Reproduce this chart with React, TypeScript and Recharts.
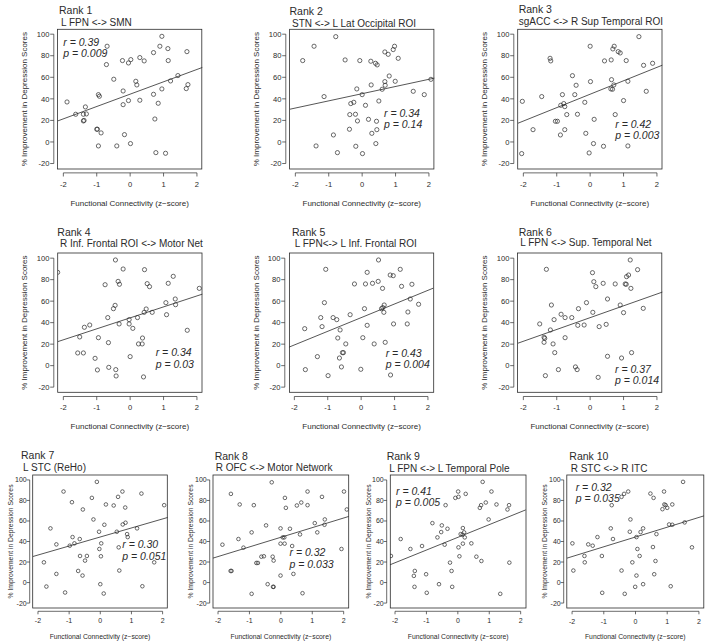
import React from "react";
import {
  ReferenceLine,
  Scatter,
  ScatterChart,
  XAxis,
  YAxis,
} from "recharts";

type Pair = [number, number];

const X_TICKS = [-2, -1, 0, 1, 2];
const Y_TICKS = [-20, 0, 20, 40, 60, 80, 100];
const X_DOMAIN: [number, number] = [-2.16, 2.16];
const Y_DOMAIN: [number, number] = [-24.8, 104.8];

const rankLabels = ["Rank 1", "Rank 2", "Rank 3", "Rank 4", "Rank 5", "Rank 6", "Rank 7", "Rank 8", "Rank 9", "Rank 10"];
const connections = [
  "L FPN <-> SMN",
  "STN <-> L Lat Occipital ROI",
  "sgACC <-> R Sup Temporal ROI",
  "R Inf. Frontal ROI <-> Motor Net",
  "L FPN<-> L Inf. Frontal ROI",
  "L FPN <-> Sup. Temporal Net",
  "L STC (ReHo)",
  "R OFC <-> Motor Network",
  "L FPN <-> L Temporal Pole",
  "R STC <-> R ITC",
];
const rValues = ["0.39", "0.34", "0.42", "0.34", "0.43", "0.37", "0.30", "0.32", "0.41", "0.32"];
const pValues = ["0.009", "0.14", "0.003", "0.03", "0.004", "0.014", "0.051", "0.033", "0.005", "0.035"];

// fitted line read at the left and right edge of the plot region
const fitEnds: Pair[] = [
  [19.6, 69.1],
  [30.4, 59.2],
  [17.4, 71.2],
  [22.4, 66.5],
  [17.2, 72.1],
  [20.9, 68.4],
  [25.4, 63.4],
  [23.8, 64.4],
  [17.3, 70.8],
  [23.8, 65.0],
];

const rank1: Pair[] = [
  [-1.89, 37.1], [-1.63, 25.7], [-1.34, 32.5], [-1.4, 25.7], [-1.31, 26], [-1.4, 19.5], [-1.38, 20],
  [-1.0, 11.8], [-0.98, 11.8], [-0.87, 8.4], [-0.95, -3.7], [-0.95, 43.9], [-0.92, 42.4], [-0.69, 88.8],
  [-0.71, 71.8], [-0.49, 58.2], [-0.4, -3.7], [-0.23, 75.5], [-0.21, 47.3], [-0.21, 34.6], [-0.17, 6.8],
  [-0.05, 73.3], [0.02, 76.4], [-0.05, 38.4], [0.01, -1.5], [0.17, 56.3], [0.2, 52.9], [0.29, 78.3],
  [0.29, 38.7], [0.42, 75.2], [0.7, 82.9], [0.7, 44.2], [0.74, 21.3], [0.77, -9.9], [0.84, 35.9],
  [0.89, 88.8], [0.95, 98], [0.95, 49.2], [1.06, -10.5], [1.13, 86.6], [1.14, 75.5], [1.21, 56.6],
  [1.43, 61.6], [1.7, 83.8], [1.73, 53.2], [1.68, 49.5],
];
const rank2: Pair[] = [
  [-1.78, 75.5], [-1.44, 88.8], [-1.38, -3.7], [-1.14, 42.1], [-0.86, 6.5], [-0.79, 97.7], [-0.74, -9.9],
  [-0.51, 76.1], [-0.38, 11.8], [-0.37, 25.4], [-0.34, 35.6], [-0.25, 36.8], [-0.2, 25.7], [-0.19, -4.0],
  [-0.16, 49.2], [-0.14, 19.5], [-0.07, 75.5], [0.0, 43.9], [0.01, -10.8], [0.1, 34.0], [0.19, 21.0],
  [0.26, 74.9], [0.27, 52.9], [0.29, 8.0], [0.4, 73.0], [0.45, 71.5], [0.41, -1.5], [0.43, 19.2],
  [0.44, 11.4], [0.5, 38.0], [0.6, 48.9], [0.68, 83.5], [0.68, 56.0], [0.69, 52.6], [0.78, 81.3],
  [0.81, 61.2], [0.93, 85.7], [0.97, 88.8], [0.99, 56.3], [1.08, 77.6], [1.53, 47.0], [1.86, 43.9],
  [2.06, 58.1],
];
const rank3: Pair[] = [
  [-2.03, 37.7], [-2.05, -10.8], [-1.71, 11.4], [-1.45, 42.1], [-1.2, 77.6], [-1.18, 75.2], [-1.04, 19.2],
  [-0.98, 19.2], [-0.88, 34.0], [-0.89, 6.5], [-0.83, 43.9], [-0.79, 35.6], [-0.76, 32.8], [-0.76, 11.4],
  [-0.7, 25.4], [-0.53, 61.5], [-0.46, 43.9], [-0.42, 52.6], [-0.38, 25.7], [-0.16, 36.8], [-0.13, 8.0],
  [-0.03, -10.2], [0.0, 88.8], [0.01, 56.0], [0.1, -1.5], [0.12, 21.0], [0.4, -4.0], [0.43, 75.2],
  [0.63, 76.1], [0.64, 57.8], [0.62, 49.2], [0.67, 48.9], [0.71, 52.9], [0.68, 86.3], [0.72, 88.8],
  [0.75, 25.4], [0.84, 83.8], [0.9, 82.6], [1.0, 38.4], [1.08, 75.5], [1.13, 56.3], [1.13, -3.7],
  [1.46, 97.7], [1.6, 71.1], [1.68, 47.0], [1.87, 73.0],
];
const rank4: Pair[] = [
  [-2.17, 86.8], [-1.51, 26.7], [-1.57, 11.8], [-1.4, 11.8], [-1.37, 35.7], [-1.21, 37.8], [-1.05, 6.8],
  [-0.98, -4.0], [-0.95, 26.0], [-0.75, 75.3], [-0.67, 44.7], [-0.65, 21.4], [-0.64, -1.6], [-0.5, 53.0],
  [-0.45, 56.1], [-0.44, 98.3], [-0.43, -3.7], [-0.42, -9.6], [-0.36, 78.4], [-0.32, 75.7], [-0.33, 38.8],
  [-0.21, 89.9], [-0.03, 42.8], [-0.03, 38.8], [0.0, 8.4], [0.08, 34.7], [0.22, 44.7], [0.25, 20.2],
  [0.36, 20.2], [0.37, 25.7], [0.4, -10.5], [0.42, 49.6], [0.43, 89.3], [0.48, 52.7], [0.51, 76.3],
  [0.58, 73.5], [0.66, 49.6], [1.07, 58.6], [1.09, 47.4], [1.14, 76.6], [1.29, 83.1], [1.35, 62.0],
  [1.36, 56.7], [1.71, 32.9], [2.07, 71.9],
];
const rank5: Pair[] = [
  [-1.69, 34.4], [-1.67, -3.7], [-1.31, 8.4], [-1.21, 44.7], [-1.17, 36.3], [-1.1, 58.6], [-1.06, 89.6],
  [-0.99, -9.3], [-0.84, 44.7], [-0.73, 42.8], [-0.7, 25.7], [-0.65, 7.1], [-0.63, 33.2], [-0.59, -1.2],
  [-0.56, 12.1], [-0.53, 12.1], [-0.46, 20.2], [-0.33, 47.4], [-0.2, 76.0], [-0.01, -3.4], [0.05, 26.0],
  [0.1, 53.0], [0.13, 76.0], [0.18, 86.8], [0.18, 37.5], [0.34, 76.6], [0.39, 20.2], [0.51, 78.4],
  [0.52, 98.3], [0.64, 71.9], [0.61, 53.0], [0.65, 54.0], [0.68, 49.6], [0.69, 56.4], [0.72, 21.7],
  [0.88, -8.7], [0.87, 84.3], [0.96, 83.7], [0.97, 38.8], [1.17, 89.6], [1.21, 73.8], [1.38, 38.8],
  [1.4, 49.9], [1.47, 62.0], [1.52, 75.7], [1.72, 57.1],
];
const rank6: Pair[] = [
  [-1.51, 38.8], [-1.38, 26.4], [-1.36, 25.4], [-1.38, 21.7], [-1.34, -9.3], [-1.31, 89.6], [-1.19, 33.2],
  [-1.16, 56.4], [-1.11, 20.2], [-1.08, 42.8], [-1.06, 12.1], [-0.95, -3.7], [-0.87, 47.8], [-0.75, 44.7],
  [-0.75, 26.0], [-0.55, 44.7], [-0.44, -1.2], [-0.39, -3.7], [-0.37, 37.5], [-0.35, 53.0], [-0.18, 37.8],
  [-0.11, 58.6], [0.07, 86.5], [0.08, 49.6], [0.11, 78.1], [0.17, 73.5], [0.24, -10.9], [0.27, 36.3],
  [0.39, 76.6], [0.48, 38.4], [0.52, 62.0], [0.52, 8.7], [0.75, 76.0], [0.9, 56.4], [0.94, 7.1],
  [1.0, 49.3], [1.05, 76.0], [1.08, 75.7], [1.09, 82.8], [1.15, 84.3], [1.2, 98.3], [1.22, 71.9],
  [1.24, 12.1], [1.42, 89.3], [1.59, 53.3],
];
const rank7: Pair[] = [
  [-1.81, 19.7], [-1.73, -3.9], [-1.6, 52.8], [-1.41, 8.4], [-1.41, 37.2], [-1.18, 88.7], [-1.13, -9.7],
  [-0.98, 35.9], [-0.91, 78.3], [-0.89, 44.3], [-0.83, 38.2], [-0.71, 11.3], [-0.66, 42.4], [-0.65, 25.9],
  [-0.57, 6.8], [-0.56, 71.2], [-0.49, 21.4], [-0.43, 25.9], [-0.27, 82.5], [-0.22, 61.5], [-0.11, 98.1],
  [-0.04, 49.5], [-0.03, 32.7], [0.0, -1.6], [0.03, 38.2], [0.02, 25.6], [0.11, -10.7], [0.13, 56.3],
  [0.18, 76.1], [0.43, 75.1], [0.53, 49.5], [0.57, 83.5], [0.59, 34.3], [0.61, 11.7], [0.71, 88.7],
  [0.72, 56.6], [0.8, 73.1], [0.81, 58.3], [0.86, 47.2], [0.88, 44.3], [1.18, 52.8], [1.32, 86.7],
  [1.35, -3.6], [1.73, 19.7], [2.05, 75.4],
];
const rank8: Pair[] = [
  [-1.86, 36.9], [-1.6, 11.3], [-1.57, 11.3], [-1.59, 86.4], [-1.35, 42.4], [-1.31, 76.1], [-1.19, 34.0],
  [-0.93, -11.0], [-0.93, 48.9], [-0.86, 75.4], [-0.78, 19.1], [-0.73, 19.1], [-0.62, 25.2], [-0.54, 25.6],
  [-0.47, 55.7], [-0.42, -1.6], [-0.29, 97.7], [-0.26, 25.2], [-0.25, -4.2], [-0.23, -4.2], [-0.23, 21.4],
  [-0.01, 6.8], [-0.01, 37.9], [-0.01, 52.8], [0.06, 44.0], [0.11, 44.0], [0.12, 37.9], [0.13, 82.5],
  [0.16, 72.8], [0.29, 52.4], [0.36, 35.6], [0.4, 8.4], [0.51, 75.1], [0.65, 78.0], [0.61, 46.9],
  [0.69, -10.4], [0.85, 88.7], [0.85, 75.4], [1.08, 57.9], [1.16, 48.9], [1.31, 83.5], [1.39, 56.3],
  [1.4, 61.5], [1.93, 32.7], [2.01, 88.7], [2.1, 71.2],
];
const rank9: Pair[] = [
  [-2.13, 25.9], [-1.82, 42.4], [-1.51, 32.7], [-1.4, 6.5], [-1.37, 11.3], [-1.38, -4.2], [-1.14, 35.6],
  [-1.01, 8.1], [-0.99, -10.0], [-0.81, 57.9], [-0.65, 44.0], [-0.6, -1.6], [-0.53, 49.2], [-0.51, 55.7],
  [-0.42, 36.9], [-0.39, 75.4], [-0.33, 52.4], [-0.25, 19.4], [-0.2, 11.3], [-0.18, -4.2], [-0.08, 82.5],
  [0.01, 88.7], [0.02, 83.5], [0.02, 34.3], [0.05, 25.6], [0.09, 47.2], [0.15, 46.6], [0.16, 53.1],
  [0.16, 37.9], [0.2, 48.9], [0.22, 44.0], [0.25, 86.4], [0.43, 38.2], [0.59, 25.2], [0.7, 72.8],
  [0.74, 75.4], [0.75, 21.0], [0.79, 98.1], [0.89, 78.0], [0.98, 61.5], [1.07, 88.7], [1.23, 76.1],
  [1.35, -11.0], [1.58, 71.2], [1.63, 75.4], [1.64, 19.4],
];
const rank10: Pair[] = [
  [-1.99, 38.2], [-1.96, 11.7], [-1.61, 25.9], [-1.6, 19.7], [-1.49, 37.2], [-1.35, 35.9], [-1.2, 44.3],
  [-1.06, 25.9], [-1.05, -10.0], [-0.78, 52.8], [-0.75, 75.4], [-0.71, 42.4], [-0.44, 11.7], [-0.44, 83.5],
  [-0.36, 86.4], [-0.34, -11.0], [-0.23, 88.7], [-0.18, 49.5], [-0.16, 61.5], [-0.1, 19.7], [-0.01, -4.2],
  [0.03, 6.8], [0.03, 44.3], [0.06, 32.7], [0.13, 25.9], [0.16, 49.2], [0.24, 52.8], [0.24, -1.6],
  [0.47, 86.7], [0.55, 34.6], [0.57, 82.5], [0.59, 8.1], [0.63, 21.0], [0.66, 47.2], [0.85, 71.5],
  [0.9, 88.7], [0.91, 76.1], [0.95, 75.4], [1.0, 72.8], [1.06, 56.6], [1.11, -3.6], [1.16, 56.3],
  [1.16, 76.1], [1.5, 98.1], [1.55, 58.6], [1.78, 34.3],
];

const panelData = [rank1, rank2, rank3, rank4, rank5, rank6, rank7, rank8, rank9, rank10];

// plot region of each panel on the page (px)
const boxes = [
  { x: 57.5, y: 29.3, w: 144.3, h: 139.7, small: false },
  { x: 289.6, y: 29.3, w: 144.3, h: 139.7, small: false },
  { x: 517.7, y: 29.3, w: 144.3, h: 139.7, small: false },
  { x: 57.7, y: 253, w: 144.3, h: 139.3, small: false },
  { x: 289.4, y: 253, w: 144.3, h: 139.3, small: false },
  { x: 517.5, y: 253, w: 144.3, h: 139.3, small: false },
  { x: 32.7, y: 475, w: 134.6, h: 133, small: true },
  { x: 213, y: 475, w: 135.7, h: 133, small: true },
  { x: 390.3, y: 475, w: 135.7, h: 133, small: true },
  { x: 566.8, y: 475, w: 137, h: 133, small: true },
];

// title and stat label anchors (page px, text baselines)
const titlePos = [
  { x: 59, y: 14, sx: 61, sy: 25.5 },
  { x: 289.5, y: 15, sx: 292, sy: 27 },
  { x: 518.7, y: 12.7, sx: 518.7, sy: 24.5 },
  { x: 57.3, y: 235.7, sx: 60, sy: 246.7 },
  { x: 292, y: 235.7, sx: 294.7, sy: 246.7 },
  { x: 518.7, y: 236, sx: 520.3, sy: 245.7 },
  { x: 21, y: 458.5, sx: 23, sy: 471 },
  { x: 214.7, y: 459.5, sx: 215.7, sy: 471 },
  { x: 386.7, y: 459.5, sx: 389.3, sy: 471.5 },
  { x: 569.3, y: 459.5, sx: 570.7, sy: 471.5 },
];
const statPos = [
  { x: 63.3, r: 45.7, p: 57.3 },
  { x: 384, r: 116.7, p: 127.7 },
  { x: 615.3, r: 127.7, p: 139 },
  { x: 155.7, r: 356, p: 367.7 },
  { x: 385.7, r: 357.3, p: 368.3 },
  { x: 615, r: 373.3, p: 384.3 },
  { x: 122.3, r: 548, p: 559.7 },
  { x: 289.5, r: 556.3, p: 568 },
  { x: 396, r: 494.7, p: 505.7 },
  { x: 575.7, r: 491.3, p: 502.3 },
];

const FONT = "'Liberation Sans', Arial, Helvetica, sans-serif";
const INK = "#2b2b2b";

const BIG = { tickFs: 7.6, axOff: 4.2, tickLen: 3.6, xLab: 18, yLab: 8.6, titleFs: 8, r: 2.1, xTitle: 36.5, yTitle: 33 };
const SMALL = { tickFs: 7, axOff: 3.3, tickLen: 3, xLab: 15.5, yLab: 6.3, titleFs: 6.8, r: 1.8, xTitle: 30.5, yTitle: 22.3 };

const YW = 40;
const XH = 30;
const MT = 4;
const MR = 6;

function Panel({ i }: { i: number }) {
  const box = boxes[i];
  const st = box.small ? SMALL : BIG;
  const pxX = box.w / (X_DOMAIN[1] - X_DOMAIN[0]);
  const pxY = box.h / (Y_DOMAIN[1] - Y_DOMAIN[0]);
  const data = panelData[i].map(([x, y]) => ({ x, y }));
  const fit = fitEnds[i];

  const xTick = (props: any) => {
    const { x, y, payload, index } = props;
    const ay = y + st.axOff;
    return (
      <g>
        {index === 0 && (
          <line x1={x} x2={x + 4 * pxX} y1={ay} y2={ay} stroke={INK} strokeWidth={0.7} />
        )}
        <line x1={x} x2={x} y1={ay} y2={ay + st.tickLen} stroke={INK} strokeWidth={0.7} />
        <text x={x} y={y + st.xLab} textAnchor="middle" fontSize={st.tickFs} fontFamily={FONT} fill={INK}>
          {payload.value}
        </text>
      </g>
    );
  };

  const yTick = (props: any) => {
    const { x, y, payload, index } = props;
    const ax = x - st.axOff;
    return (
      <g>
        {index === 0 && (
          <line x1={ax} x2={ax} y1={y} y2={y - 120 * pxY} stroke={INK} strokeWidth={0.7} />
        )}
        <line x1={ax} x2={ax - st.tickLen} y1={y} y2={y} stroke={INK} strokeWidth={0.7} />
        <text x={x - st.yLab} y={y + st.tickFs * 0.36} textAnchor="end" fontSize={st.tickFs} fontFamily={FONT} fill={INK}>
          {payload.value}
        </text>
      </g>
    );
  };

  const dot = (props: any) => (
    <circle cx={props.cx} cy={props.cy} r={st.r} fill="none" stroke={INK} strokeWidth={0.7} />
  );

  return (
    <div style={{ position: "absolute", left: box.x - YW, top: box.y - MT }}>
      <ScatterChart
        width={YW + box.w + MR}
        height={MT + box.h + XH}
        margin={{ top: MT, right: MR, left: 0, bottom: 0 }}
      >
        <XAxis
          type="number"
          dataKey="x"
          domain={X_DOMAIN}
          ticks={X_TICKS}
          interval={0}
          allowDataOverflow
          axisLine={false}
          tickLine={false}
          tickSize={0}
          tickMargin={0}
          height={XH}
          tick={xTick}
        />
        <YAxis
          type="number"
          dataKey="y"
          domain={Y_DOMAIN}
          ticks={Y_TICKS}
          interval={0}
          allowDataOverflow
          axisLine={false}
          tickLine={false}
          tickSize={0}
          tickMargin={0}
          width={YW}
          tick={yTick}
        />
        <Scatter data={data} shape={dot} isAnimationActive={false} />
        <ReferenceLine
          segment={[
            { x: X_DOMAIN[0], y: fit[0] },
            { x: X_DOMAIN[1], y: fit[1] },
          ]}
          stroke={INK}
          strokeWidth={0.8}
          ifOverflow="visible"
        />
      </ScatterChart>
    </div>
  );
}

function Labels() {
  return (
    <svg
      width={708}
      height={642}
      style={{ position: "absolute", left: 0, top: 0, pointerEvents: "none" }}
      fontFamily={FONT}
      fill={INK}
    >
      {boxes.map((box, i) => {
        const st = box.small ? SMALL : BIG;
        const t = titlePos[i];
        const s = statPos[i];
        const cx = box.x + box.w / 2;
        const cy = box.y + box.h / 2;
        const yx = box.x - st.yTitle;
        return (
          <g key={i}>
            {/* plot frame */}
            <rect x={box.x} y={box.y} width={box.w} height={box.h} fill="none" stroke={INK} strokeWidth={0.8} />
            <text x={t.x} y={t.y} fontSize={10.5}>{rankLabels[i]}</text>
            <text x={t.sx} y={t.sy} fontSize={10}>{connections[i]}</text>
            <text x={s.x} y={s.r} fontSize={10.5} fontStyle="italic">{`r = ${rValues[i]}`}</text>
            <text x={s.x} y={s.p} fontSize={10.5} fontStyle="italic">{`p = ${pValues[i]}`}</text>
            <text x={cx} y={box.y + box.h + st.xTitle} fontSize={st.titleFs} textAnchor="middle">
              Functional Connectivity (z−score)
            </text>
            <text
              transform={`translate(${yx},${cy}) rotate(-90)`}
              fontSize={st.titleFs}
              textAnchor="middle"
              dominantBaseline="central"
            >
              % Improvement in Depression Scores
            </text>
          </g>
        );
      })}
    </svg>
  );
}

export default function App() {
  return (
    <div
      style={{
        position: "absolute",
        left: 0,
        top: 0,
        width: 708,
        height: 642,
        background: "#fff",
        overflow: "hidden",
      }}
    >
      {boxes.map((_, i) => (
        <Panel key={i} i={i} />
      ))}
      <Labels />
    </div>
  );
}
